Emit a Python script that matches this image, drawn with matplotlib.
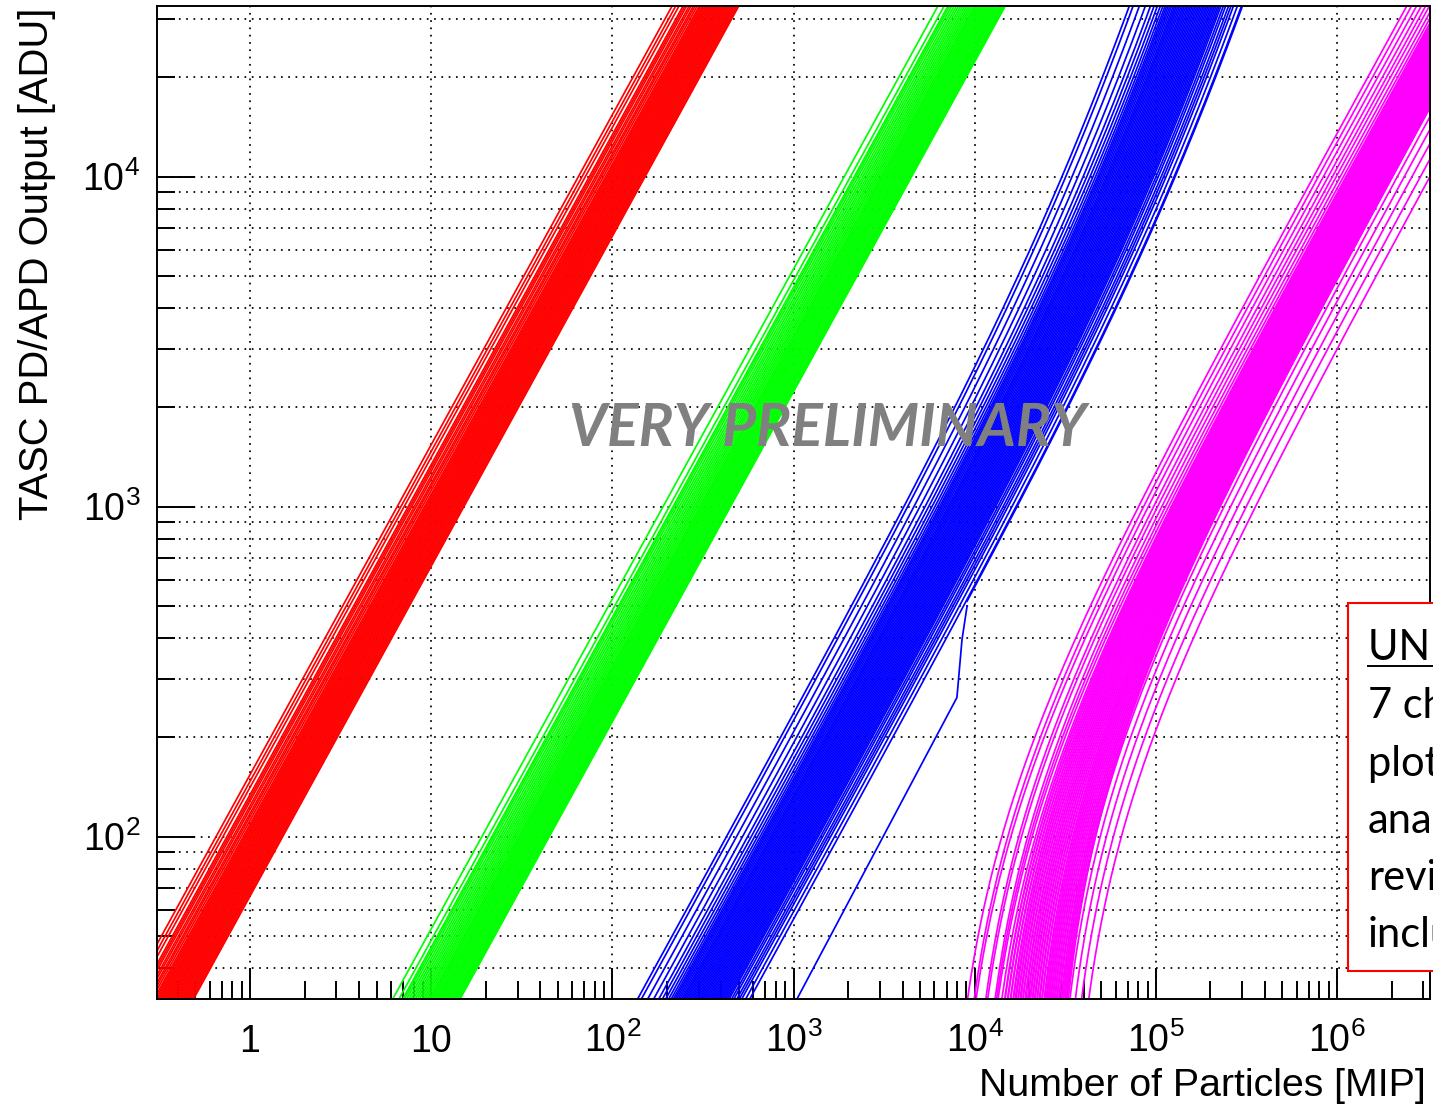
import numpy as np
import matplotlib
matplotlib.use("Agg")
import matplotlib.pyplot as plt
from matplotlib.ticker import FixedLocator, FixedFormatter, LogLocator, NullFormatter
from matplotlib.patches import Rectangle
from matplotlib.lines import Line2D

# ---------------- data ----------------
# axis ranges
x_range = [0.3066, 3.26e6]        # Number of particles [MIP]
y_range = [32.2, 32900]           # ADU

x_tick_values = [1, 10, 1e2, 1e3, 1e4, 1e5, 1e6]
x_tick_labels = ["1", "10", r"$\mathdefault{10^{2}}$", r"$\mathdefault{10^{3}}$",
                 r"$\mathdefault{10^{4}}$", r"$\mathdefault{10^{5}}$", r"$\mathdefault{10^{6}}$"]
y_tick_values = [1e2, 1e3, 1e4]
y_tick_labels = [r"$\mathdefault{10^{2}}$", r"$\mathdefault{10^{3}}$", r"$\mathdefault{10^{4}}$"]

# channel gains [ADU / MIP] per gain range
red_gain = [66.0, 67.2, 68.5, 69.8, 71.1, 72.4, 73.8, 75.2, 76.6, 78.0, 79.5, 81.0,
            82.5, 84.0, 85.6, 87.2, 88.8, 90.5, 92.2, 93.9, 95.7, 97.5, 99.3, 101.2,
            103.1, 105.0, 107.0, 109.0, 112.0, 115.0, 117.5, 121.0, 124.0, 128.0,
            131.0, 134.0, 141.0, 147.0, 154.0]
green_gain = [2.23, 2.27, 2.31, 2.355, 2.40, 2.445, 2.49, 2.54, 2.59, 2.64, 2.69,
              2.74, 2.79, 2.845, 2.90, 2.955, 3.01, 3.07, 3.13, 3.19, 3.25, 3.31,
              3.39, 3.47, 3.55, 3.64, 3.73, 3.83, 3.93, 4.04, 4.15, 4.27, 4.40,
              4.52, 4.62, 4.85, 5.25]
blue_gain = [0.233, 0.222, 0.205, 0.190, 0.178, 0.170, 0.163, 0.157, 0.152, 0.148,
             0.145, 0.142, 0.139, 0.136, 0.133, 0.1305, 0.128, 0.1255, 0.123,
             0.1205, 0.118, 0.1157, 0.1134, 0.1111, 0.1089, 0.1067, 0.1046, 0.1025,
             0.1005, 0.0985, 0.0965, 0.0946, 0.0927, 0.0908, 0.0890, 0.0872, 0.0855,
             0.0838, 0.0821, 0.0805, 0.0789, 0.0773, 0.0757, 0.0742, 0.0727, 0.0705,
             0.0685, 0.0660, 0.0640, 0.0620, 0.0590, 0.0560]
blue_nonlinearity_adu = 17000.0   # output where the PD-high response turns super-linear
# one PD-high channel with a jump
kink_mip = [1045, 7980, 8510, 9080]
kink_adu = [32.2, 264, 395, 500]
kink_gain = 0.0553

# PD-low channels: ADU = gain * MIP - pedestal
magenta_gain = [0.0136, 0.0128, 0.0120, 0.0113, 0.0107, 0.0102, 0.0097, 0.0093,
                0.00900, 0.00891, 0.00882, 0.00873, 0.00864, 0.00855, 0.00846, 0.00838, 0.00830, 0.00822,
                0.00814, 0.00806, 0.00798, 0.00790, 0.00782, 0.00774, 0.00766, 0.00758, 0.00750, 0.00743,
                0.00736, 0.00729, 0.00722, 0.00715, 0.00708, 0.00701, 0.00694, 0.00687, 0.00680, 0.00673,
                0.00666, 0.00659, 0.00652, 0.00645, 0.00638, 0.00632, 0.00626, 0.00620, 0.00614, 0.00608,
                0.00602, 0.00596, 0.00590, 0.00584, 0.00578, 0.00572, 0.00566, 0.00560, 0.00554, 0.00548,
                0.00542, 0.00536, 0.00530, 0.00524, 0.00518, 0.00512, 0.00506, 0.00500,
                0.0047, 0.0043, 0.0039, 0.0035, 0.0031]
magenta_ped = [92, 95, 90, 98, 94, 100, 96, 93,
               95, 99, 97, 101, 99, 103, 101, 105, 103, 107,
               104, 108, 106, 110, 107, 111, 109, 113, 110, 114,
               112, 116, 113, 117, 115, 119, 116, 120, 118, 122,
               119, 123, 121, 125, 122, 126, 123, 127, 124, 128,
               125, 129, 126, 130, 127, 131, 128, 132, 129, 133,
               130, 134, 130, 134, 131, 135, 131, 132,
               118, 112, 108, 104, 100]

x_title = "Number of Particles [MIP]"
y_title = "TASC PD/APD Output [ADU]"
watermark = "VERY PRELIMINARY"
note_lines = ["UNDER REVIEW", "7 channels", "plotted here", "analysis", "review", "included"]

# ---------------- figure ----------------
plt.rcParams["font.family"] = ["Liberation Sans", "DejaVu Sans"]
plt.rcParams["mathtext.fontset"] = "custom"
plt.rcParams["mathtext.rm"] = "Liberation Sans"

W, H, DPI = 1433, 1104, 100
fig = plt.figure(figsize=(W / DPI, H / DPI), dpi=DPI)
ax = fig.add_axes([157 / W, 1 - 999 / H, (1430 - 157) / W, (999 - 6) / H])
ax.set_xscale("log")
ax.set_yscale("log")
ax.set_xlim(*x_range)
ax.set_ylim(*y_range)

LW = 1.25
xs = np.geomspace(x_range[0], x_range[1], 600)

for g in red_gain:
    ax.plot(x_range, [g * x_range[0], g * x_range[1]], color="#ff0000", lw=LW, zorder=2)
for g in green_gain:
    ax.plot(x_range, [g * x_range[0], g * x_range[1]], color="#00ff00", lw=LW, zorder=2)
for g in blue_gain:
    u = g * xs
    ax.plot(xs, u * (1 + u / blue_nonlinearity_adu), color="#0000ff", lw=LW, zorder=2)
# channel with jump
ax.plot(kink_mip, kink_adu, color="#0000ff", lw=LW, zorder=2)
xk = np.geomspace(kink_mip[-1], x_range[1], 300)
uk = kink_gain * xk
ax.plot(xk, uk * (1 + uk / blue_nonlinearity_adu), color="#0000ff", lw=LW, zorder=2)

for g, c in zip(magenta_gain, magenta_ped):
    xm = np.geomspace((c + 20) / g, x_range[1], 600)
    ax.plot(xm, g * xm - c, color="#ff00ff", lw=LW, zorder=2)

# ticks
ax.xaxis.set_major_locator(FixedLocator(x_tick_values))
ax.xaxis.set_major_formatter(FixedFormatter(x_tick_labels))
ax.xaxis.set_minor_locator(LogLocator(base=10, subs=np.arange(2, 10), numticks=100))
ax.xaxis.set_minor_formatter(NullFormatter())
ax.yaxis.set_major_locator(FixedLocator(y_tick_values))
ax.yaxis.set_major_formatter(FixedFormatter(y_tick_labels))
ax.yaxis.set_minor_locator(LogLocator(base=10, subs=np.arange(2, 10), numticks=100))
ax.yaxis.set_minor_formatter(NullFormatter())

ax.tick_params(axis="x", which="major", direction="in", length=22.3, width=1.4,
               pad=38, labelsize=27)
ax.tick_params(axis="x", which="minor", direction="in", length=12.7, width=1.4)
ax.tick_params(axis="y", which="major", direction="in", length=27.4, width=1.4,
               pad=12, labelsize=27)
ax.tick_params(axis="y", which="minor", direction="in", length=13, width=1.4)
ax.tick_params(top=False, right=False, which="both")
for lab in ax.get_xticklabels():
    lab.set_verticalalignment("baseline")

for sp in ax.spines.values():
    sp.set_linewidth(1.4)

ax.set_axisbelow(True)
grid_kw = dict(color="black", linestyle=(0, (1, 3.2)), linewidth=1.25)
ax.grid(True, which="major", axis="both", **grid_kw)
ax.grid(True, which="minor", axis="y", **grid_kw)

# axis titles
ax.set_xlabel(x_title, fontsize=28.3, ha="right", va="baseline")
ax.xaxis.set_label_coords((1426 - 157) / 1273, -(1096 - 999) / 993)
ax.set_ylabel(y_title, fontsize=28.8)
ylab = ax.yaxis.label
ylab.set_rotation_mode("anchor")
ylab.set_horizontalalignment("right")
ylab.set_verticalalignment("center")
ax.yaxis.set_label_coords((37 - 157) / 1273, (999 - 8) / 993)

# watermark
wm = fig.text(828 / W, 1 - 429 / H, watermark, ha="center", va="center",
              fontsize=44, fontweight="bold", style="italic", color="#808080",
              family=["Lato", "DejaVu Sans"], zorder=20)
fig.canvas.draw()
bb = wm.get_window_extent()
wm.set_fontsize(44 * 518.0 / bb.width)

# note box (cut by the picture edge)
fig.add_artist(Rectangle((1348 / W, 1 - 971 / H), (W - 1348 + 20) / W, (971 - 603) / H,
                         transform=fig.transFigure, facecolor="white",
                         edgecolor="#ff0000", lw=1.5, zorder=30))
baselines = [660, 718, 776, 833, 890, 947]
for s, b in zip(note_lines, baselines):
    fig.text(1368 / W, 1 - b / H, s, ha="left", va="baseline", fontsize=30,
             family=["Lato", "DejaVu Sans"], color="black", zorder=31)
fig.add_artist(Line2D([1368 / W, 1.0], [1 - 666 / H, 1 - 666 / H],
                      transform=fig.transFigure, color="black", lw=1.4, zorder=31))

fig.savefig("out.png", dpi=DPI)
